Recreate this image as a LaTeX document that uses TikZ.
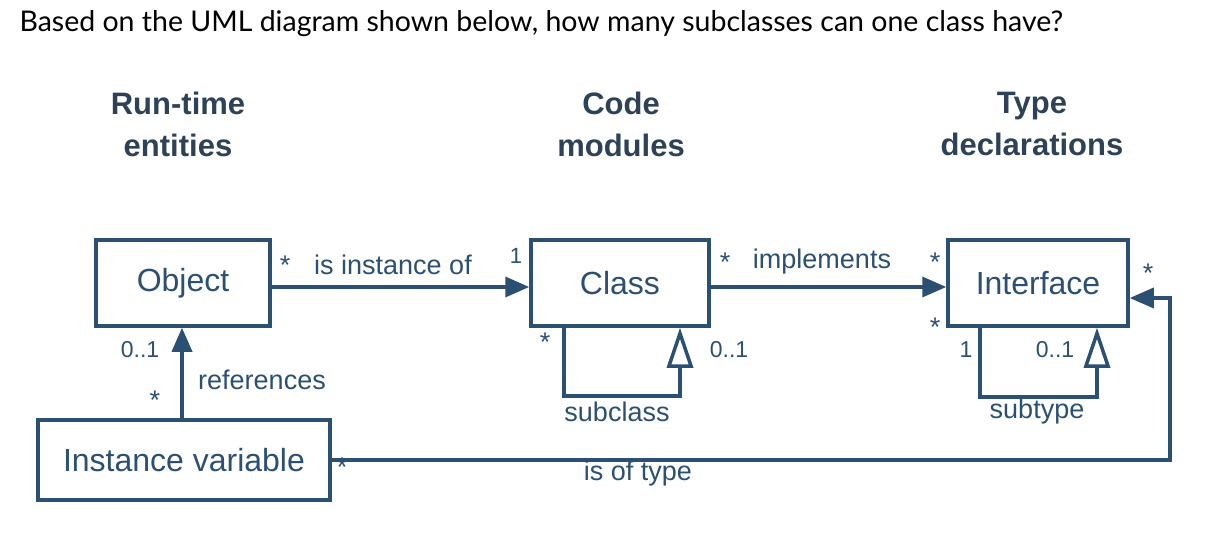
\documentclass[tikz,border=0pt]{standalone}
\usepackage{fontspec}
\setmainfont{Liberation Sans}
\newfontfamily\qfont{Lato}
\usetikzlibrary{arrows.meta}
\definecolor{uml}{HTML}{2B5072}
\definecolor{head}{HTML}{2E4257}
\begin{document}
\begin{tikzpicture}[x=1pt,y=-1pt,
  box/.style={draw=uml,line width=3.5pt,fill=white,text=uml,font=\fontsize{32}{36}\selectfont},
  lbl/.style={text=uml,font=\fontsize{27}{30}\selectfont,inner sep=0pt},
  hd/.style={text=head,font=\bfseries\fontsize{31}{42}\selectfont,align=center},
  ln/.style={draw=uml,line width=3.5pt},
  fa/.style={-{Triangle[length=24pt,width=20pt]}},
  oa/.style={-{Triangle[open,length=40pt,width=26pt,fill=white]}}]
\useasboundingbox (0,0) rectangle (1226,548);
\node[anchor=west,font=\qfont\fontsize{28.5}{32}\selectfont] (q) at (16,24) {Based on the UML diagram shown below, how many subclasses can one class have?};
\node[hd] (h1) at (178,124) {Run-time\\entities};
\node[hd] (h2) at (621,124) {Code\\modules};
\node[hd] (h3) at (1032,124) {Type\\declarations};
\node[box,minimum width=174pt,minimum height=86pt] (obj) at (183,283) {Object};
\node[box,minimum width=178pt,minimum height=86pt] (cls) at (620,283) {Class};
\node[box,minimum width=180pt,minimum height=86pt] (ifc) at (1038,283) {Interface};
\node[box,minimum width=292pt,minimum height=80pt] (iv) at (184,460) {Instance variable};
\coordinate (c1) at (564,396); \coordinate (c2) at (680,396);
\coordinate (i1) at (980,397); \coordinate (i2) at (1097,397);
\coordinate (r1) at (1170,298); \coordinate (r2) at (1170,460);
\draw[ln,fa] (obj.east|-0,287) -- (cls.west|-0,287);
\draw[ln,fa] (cls.east|-0,287) -- (ifc.west|-0,287);
\draw[ln,fa] (iv.north-|182,0) -- (obj.south-|182,0);
\draw[ln,oa] (cls.south-|564,0) -- (c1) -- (c2) -- (cls.south-|680,0);
\draw[ln,oa] (ifc.south-|980,0) -- (i1) -- (i2) -- (ifc.south-|1097,0);
\draw[ln,fa] (iv.east|-r2) -- (r2) -- (r1) -- (ifc.east|-r1);
\node[lbl] (t1) at (285,265) {*};
\node[lbl] (t2) at (393,265) {is instance of};
\node[lbl,font=\fontsize{22}{24}\selectfont] (t3) at (516,256) {1};
\node[lbl] (t4) at (725,262) {*};
\node[lbl] (t5) at (822,262) {implements};
\node[lbl] (t6) at (935,262) {*};
\node[lbl] (t7) at (1148,273) {*};
\node[lbl] (t8) at (935,327) {*};
\node[lbl,font=\fontsize{23}{24}\selectfont] (t9) at (966,350) {1};
\node[lbl,font=\fontsize{23}{24}\selectfont] (t10) at (1055,350) {0..1};
\node[lbl] (t11) at (1037,412) {subtype};
\node[lbl] (t12) at (545,342) {*};
\node[lbl,font=\fontsize{23}{24}\selectfont] (t13) at (729,350) {0..1};
\node[lbl] (t14) at (617,412) {subclass};
\node[lbl,font=\fontsize{23}{24}\selectfont] (t15) at (140,350) {0..1};
\node[lbl] (t16) at (155,400) {*};
\node[lbl] (t17) at (262,380) {references};
\node[lbl] (t18) at (342,467) {*};
\node[lbl] (t19) at (638,474) {is of type};
\end{tikzpicture}
\end{document}
